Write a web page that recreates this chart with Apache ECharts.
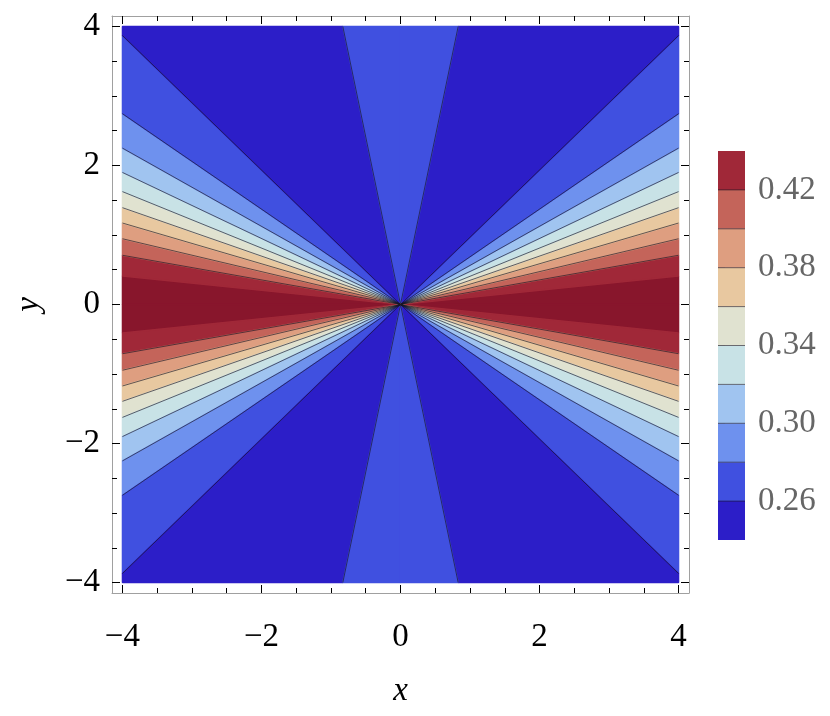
<!DOCTYPE html>
<html><head><meta charset="utf-8">
<script src="https://cdn.jsdelivr.net/npm/echarts@6/dist/echarts.min.js"></script>
<style>html,body{margin:0;padding:0;background:#fff}#c{width:830px;height:716px}</style>
</head><body><div id="c"></div>
<script>
// contour levels and band colours (colour i fills levels[i]..levels[i+1])
const levels = [0.24, 0.26, 0.28, 0.30, 0.32, 0.34, 0.36, 0.38, 0.40, 0.42, 0.44];
const levelColors = ['#2C1EC8', '#4050E0', '#6E91EE', '#A0C4F0', '#C8E2E6', '#E0E2D0', '#E8C8A0', '#DE9E80', '#C4645A', '#A02838'];
const peakColor = '#88162C';
// contour boundaries in the first quadrant: where each ray from the origin meets the plot edge (ordered by angle)
const boundaryX = [4, 4, 4, 4, 4, 4, 4, 4, 4, 4, 4, 0.83, 0];
const boundaryY = [0, 0.41, 0.708, 0.946, 1.172, 1.393, 1.624, 1.90, 2.25, 2.745, 3.87, 4, 4];
// band between consecutive boundaries (index into levelColors, -1 = peak region)
const sectorBand = [-1, 9, 8, 7, 6, 5, 4, 3, 2, 1, 0, 1];
// whether a contour line is drawn along a boundary
const boundaryLine = [0, 0, 1, 1, 1, 1, 1, 1, 1, 1, 1, 1, 0];
// axis ticks
const majorTicks = [-4, -2, 0, 2, 4];
const minorTicks = [-4, -3.5, -3, -2.5, -2, -1.5, -1, -0.5, 0, 0.5, 1, 1.5, 2, 2.5, 3, 3.5, 4];
const cbTicks = [0.26, 0.30, 0.34, 0.38, 0.42];

const FONT = "'Liberation Serif','DejaVu Serif',serif";
const FS = 33;
const quads = [[1, 1], [-1, 1], [-1, -1], [1, -1]];
const fmt = v => (v < 0 ? '\u2212' + Math.abs(v) : String(v));

const sectorData = [];
const lineData = [];
for (let q = 0; q < 4; q++) {
  for (let i = 0; i < sectorBand.length; i++) sectorData.push([0, 0, i, q]);
  for (let i = 0; i < boundaryX.length; i++) if (boundaryLine[i]) lineData.push([0, 0, i, q]);
}
const cbData = [];
for (let i = 0; i < levelColors.length; i++) cbData.push([0, levels[i], i]);

function mkX(pos, ticks, len, lineShow, extra) {
  return Object.assign({
    type: 'value', gridIndex: 0, min: -4.15, max: 4.15, position: pos,
    axisLine: { show: lineShow, onZero: false, lineStyle: { color: '#a0a0a0', width: 1 } },
    axisTick: { show: true, inside: true, length: len, customValues: ticks, lineStyle: { color: '#000', width: 1 } },
    axisLabel: { show: false }, splitLine: { show: false }
  }, extra || {});
}
const mkY = mkX;

const option = {
  animation: false,
  backgroundColor: '#fff',
  grid: [
    { left: 112, top: 16, width: 577, height: 577, outerBoundsMode: 'none' },
    { left: 718, top: 151, width: 27, height: 389, outerBoundsMode: 'none' }
  ],
  xAxis: [
    mkX('bottom', majorTicks, 8, true, {
      axisLabel: { show: true, customValues: majorTicks, formatter: fmt, fontFamily: FONT, fontSize: FS, color: '#000', margin: 28 },
      name: 'x', nameLocation: 'middle', nameGap: 82,
      nameTextStyle: { fontFamily: FONT, fontSize: FS, fontStyle: 'italic', color: '#000' }
    }),
    mkX('bottom', minorTicks, 5, false),
    mkX('top', majorTicks, 8, true),
    mkX('top', minorTicks, 5, false),
    { type: 'value', gridIndex: 1, min: 0, max: 1, show: false }
  ],
  yAxis: [
    mkY('left', majorTicks, 8, true, {
      axisLabel: { show: true, customValues: majorTicks, formatter: fmt, fontFamily: FONT, fontSize: FS, color: '#000', margin: 12 },
      name: 'y', nameLocation: 'middle', nameGap: 66, nameRotate: 90,
      nameTextStyle: { fontFamily: FONT, fontSize: FS, fontStyle: 'italic', color: '#000' }
    }),
    mkY('left', minorTicks, 5, false),
    mkY('right', majorTicks, 8, true),
    mkY('right', minorTicks, 5, false),
    {
      type: 'value', gridIndex: 1, min: 0.24, max: 0.44, position: 'right',
      axisLine: { show: false },
      axisTick: { show: true, inside: false, length: 7, customValues: cbTicks, lineStyle: { color: '#c8c8c8' } },
      axisLabel: { show: true, customValues: cbTicks, formatter: v => v.toFixed(2), fontFamily: FONT, fontSize: FS, color: '#666', margin: 13 },
      splitLine: { show: false }
    }
  ],
  series: [
    {
      type: 'custom', xAxisIndex: 0, yAxisIndex: 0, data: sectorData, silent: true,
      encode: { x: 0, y: 1 },
      renderItem: function (params, api) {
        const i = api.value(2), q = api.value(3);
        const s = quads[q];
        const pts = [[0, 0], [boundaryX[i], boundaryY[i]]];
        if (boundaryX[i] === 4 && boundaryY[i] < 4 && boundaryY[i + 1] === 4 && boundaryX[i + 1] < 4) pts.push([4, 4]);
        pts.push([boundaryX[i + 1], boundaryY[i + 1]]);
        const b = sectorBand[i];
        const col = b < 0 ? peakColor : levelColors[b];
        return {
          type: 'polygon',
          shape: { points: pts.map(p => api.coord([p[0] * s[0], p[1] * s[1]])) },
          style: { fill: col, stroke: col, lineWidth: 1.4, lineJoin: 'bevel' }
        };
      }
    },
    {
      type: 'custom', xAxisIndex: 0, yAxisIndex: 0, data: lineData, silent: true,
      encode: { x: 0, y: 1 },
      renderItem: function (params, api) {
        const i = api.value(2), q = api.value(3);
        const s = quads[q];
        const a = api.coord([0, 0]);
        const b = api.coord([boundaryX[i] * s[0], boundaryY[i] * s[1]]);
        return {
          type: 'line',
          shape: { x1: a[0], y1: a[1], x2: b[0], y2: b[1] },
          style: { stroke: 'rgba(25,20,35,0.65)', lineWidth: 1 }
        };
      }
    },
    {
      type: 'custom', xAxisIndex: 4, yAxisIndex: 4, data: cbData, silent: true,
      encode: { x: 0, y: 1 },
      renderItem: function (params, api) {
        const i = api.value(2);
        const p1 = api.coord([0, levels[i + 1]]);
        const p2 = api.coord([1, levels[i]]);
        const children = [{
          type: 'rect',
          shape: { x: p1[0], y: p1[1], width: p2[0] - p1[0], height: p2[1] - p1[1] },
          style: { fill: levelColors[i] }
        }];
        if (i > 0) children.push({
          type: 'line',
          shape: { x1: p1[0], y1: p2[1], x2: p2[0], y2: p2[1] },
          style: { stroke: 'rgba(25,20,35,0.6)', lineWidth: 1 }
        });
        return { type: 'group', children: children };
      }
    }
  ]
};
const chart = echarts.init(document.getElementById('c'), null, { renderer: 'canvas' });
chart.setOption(option);
</script>
</body></html>
